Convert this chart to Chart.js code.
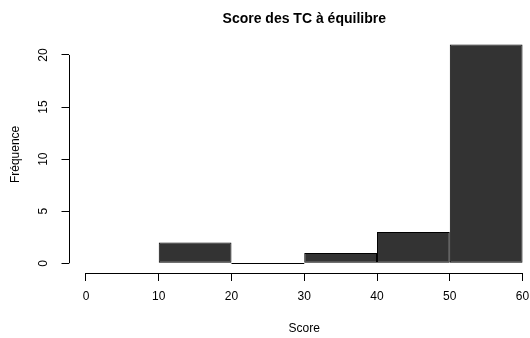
<!DOCTYPE html>
<html>
<head>
<meta charset="utf-8">
<script src="https://cdn.jsdelivr.net/npm/chart.js@4"></script>
<style>
  html, body { margin: 0; padding: 0; background: #fff; overflow: hidden; }
</style>
</head>
<body>
<canvas id="hist" width="560" height="338"></canvas>
<script>
// histogram bins (left edges, width 10) and counts
const binStarts = [10, 20, 30, 40, 50];
const binWidth = 10;
const counts = [2, 0, 1, 3, 21];
const xTicks = [0, 10, 20, 30, 40, 50, 60];
const yTicks = [0, 5, 10, 15, 20];

const FONT = "'Liberation Sans', Arial, sans-serif";

// R style detached axes + zero-count bins drawn as a flat line
const rAxes = {
    id: 'rAxes',
    afterDatasetsDraw(chart) {
        const { ctx, scales: { x, y }, chartArea } = chart;
        ctx.save();
        ctx.strokeStyle = '#000';
        ctx.lineWidth = 1;
        ctx.beginPath();
        const ax = Math.round(chartArea.left) + 0.5;
        ctx.moveTo(ax, y.getPixelForValue(yTicks[0]));
        ctx.lineTo(ax, y.getPixelForValue(yTicks[yTicks.length - 1]));
        const ay = Math.round(chartArea.bottom) + 0.5;
        ctx.moveTo(x.getPixelForValue(xTicks[0]), ay);
        ctx.lineTo(x.getPixelForValue(xTicks[xTicks.length - 1]), ay);
        counts.forEach((c, i) => {
            if (c === 0) {
                const py = Math.round(y.getPixelForValue(0)) + 0.5;
                ctx.moveTo(x.getPixelForValue(binStarts[i]), py);
                ctx.lineTo(x.getPixelForValue(binStarts[i] + binWidth), py);
            }
        });
        ctx.stroke();
        ctx.restore();
    }
};

new Chart(document.getElementById('hist').getContext('2d'), {
    type: 'bar',
    data: {
        datasets: [{
            data: binStarts.map((s, i) => ({ x: s + binWidth / 2, y: counts[i] })),
            backgroundColor: '#333333',
            borderColor: '#000',
            borderWidth: 1,
            borderSkipped: false,
            barPercentage: 1,
            categoryPercentage: 1,
            inflateAmount: 0
        }]
    },
    options: {
        responsive: false,
        animation: false,
        layout: { padding: { left: 0, right: 20, top: 0, bottom: 0 } },
        plugins: {
            legend: { display: false },
            tooltip: { enabled: false },
            title: {
                display: true,
                text: 'Score des TC à équilibre',
                fullSize: false,
                color: '#000',
                font: { family: FONT, size: 14, weight: 'bold' },
                padding: { top: 11, bottom: 8 }
            }
        },
        scales: {
            x: {
                type: 'linear',
                min: -2.4,
                max: 62.4,
                offset: false,
                afterBuildTicks: s => { s.ticks = xTicks.map(v => ({ value: v })); },
                afterFit: s => { s.height = 65; },
                grid: { display: true, offset: false, drawOnChartArea: false, drawTicks: true, tickLength: 8, color: '#000' },
                border: { display: false },
                ticks: { color: '#000', font: { family: FONT, size: 12 }, padding: 8, maxRotation: 0 },
                title: { display: true, text: 'Score', color: '#000', font: { family: FONT, size: 12 }, padding: { top: 0, bottom: 2 } }
            },
            y: {
                min: -0.93,
                max: 21.84,
                afterBuildTicks: s => { s.ticks = yTicks.map(v => ({ value: v })); },
                afterFit: s => { s.width = 68.5; },
                grid: { display: true, drawOnChartArea: false, drawTicks: true, tickLength: 7, color: '#000' },
                border: { display: false },
                ticks: { color: '#000', font: { family: FONT, size: 12 }, minRotation: 90, maxRotation: 90, crossAlign: 'center', padding: 11 },
                title: { display: true, text: 'Fréquence', color: '#000', font: { family: FONT, size: 12 }, padding: { top: 8, bottom: 0 } }
            }
        }
    },
    plugins: [rAxes]
});
</script>
</body>
</html>
